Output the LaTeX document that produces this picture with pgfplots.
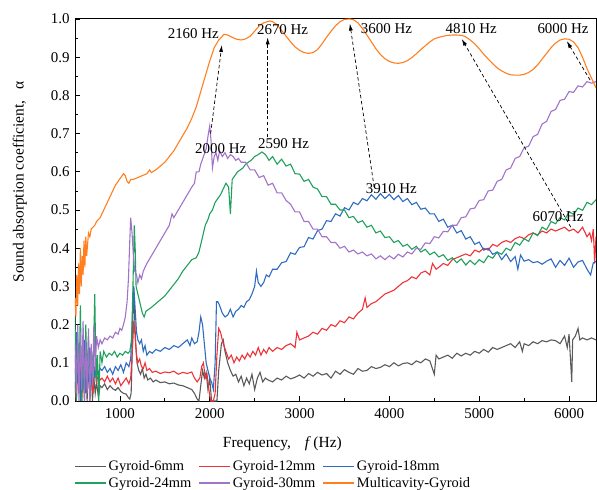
\documentclass[border=0pt]{standalone}
\usepackage{fontspec}
\setmainfont{Liberation Serif}
\usepackage{pgfplots}
\pgfplotsset{compat=1.18}
\usetikzlibrary{arrows.meta}

\definecolor{cGray}{HTML}{5A5A5A}
\definecolor{cRed}{HTML}{EE3338}
\definecolor{cBlue}{HTML}{2F6BC0}
\definecolor{cGreen}{HTML}{1FA05C}
\definecolor{cPurple}{HTML}{A173C9}
\definecolor{cOrange}{HTML}{FF7F1F}

\newcommand{\annfont}{\fontsize{15}{17}\selectfont}

\begin{document}
\begin{tikzpicture}
\begin{axis}[
  scale only axis,
  width=521bp, height=382bp,
  xmin=500, xmax=6300, ymin=0, ymax=1.0,
  xtick={1000,2000,3000,4000,5000,6000},
  ytick={0,0.1,0.2,0.3,0.4,0.5,0.6,0.7,0.8,0.9,1.0},
  minor x tick num=1, minor y tick num=1,
  tick align=inside, tick pos=left,
  major tick length=5bp, minor tick length=3bp,
  axis line style={line width=1pt},
  every tick/.style={black, line width=0.8pt},
  scaled x ticks=false,
  /pgf/number format/assume math mode=true,
  /pgf/number format/1000 sep={},
  yticklabel style={/pgf/number format/fixed, /pgf/number format/precision=1, /pgf/number format/fixed zerofill, xshift=-2bp},
  xticklabel style={yshift=-4bp},
  tick label style={font=\fontsize{15}{17}\selectfont},
  xlabel={Frequency,\hspace{0.9em}\textit{f}\,(Hz)},
  xlabel style={font=\fontsize{15.5}{18}\selectfont, at={(axis description cs:0.398,-0.112)}, anchor=center},
  ylabel={Sound absorption coefficient,\hspace{0.7em}α},
  ylabel style={font=\fontsize{15.5}{18}\selectfont, at={(axis description cs:-0.106,0.573)}, anchor=center, rotate=0},
  legend columns=3,
  legend cell align=left,
  legend style={draw=none, fill=none, at={(axis description cs:-0.002,-0.150)}, anchor=north west,
    font=\fontsize{14.5}{16}\selectfont, inner sep=0pt,
    nodes={inner xsep=2bp, inner ysep=2.4bp},
    /tikz/every even column/.append style={column sep=5bp}},
  legend image code/.code={\draw[#1, line width=1.5pt] (0bp,0bp) -- (31bp,0bp);},
  clip=true,
]
% Gyroid-6mm
\addplot[cGray, line width=1.1pt] coordinates {
(500,0.12)(515,0.00)(530,0.15)(545,0.02)(560,0.10)(575,0.00)(590,0.14)(605,0.03)(620,0.09)(635,0.00)
(650,0.12)(665,0.01)(680,0.08)(695,0.00)(710,0.06)(725,0.02)(740,0.05)(760,0.01)(780,0.04)(800,0.035)
(830,0.045)(860,0.03)(890,0.04)(920,0.032)(950,0.028)(980,0.035)(1010,0.025)(1040,0.02)(1070,0.018)(1090,0.01)
(1110,0.005)(1125,0.02)(1140,0.15)(1150,0.30)(1160,0.25)(1175,0.15)(1190,0.10)(1210,0.08)(1230,0.07)(1250,0.085)
(1270,0.06)(1290,0.07)(1310,0.055)(1340,0.06)(1370,0.05)(1400,0.055)(1450,0.048)(1500,0.05)(1550,0.045)(1600,0.047)
(1650,0.042)(1700,0.04)(1750,0.035)(1800,0.03)(1830,0.02)(1860,0.005)(1880,0.0)(1900,0.04)(1920,0.08)(1940,0.06)
(1960,0.075)(1980,0.03)(2000,0.06)(2020,0.0)(2040,0.0)(2060,0.0)(2080,0.0)(2100,0.08)(2130,0.15)(2150,0.16)
(2170,0.13)(2200,0.10)(2230,0.08)(2260,0.065)(2290,0.07)(2320,0.05)(2350,0.065)(2380,0.04)(2410,0.06)(2440,0.045)
(2470,0.07)(2500,0.03)(2530,0.06)(2560,0.075)(2590,0.05)(2620,0.06)(2650,0.055)(2700,0.05)(2750,0.06)(2800,0.055)
(2850,0.065)(2900,0.058)(2950,0.062)(3000,0.068)(3050,0.06)(3100,0.072)(3150,0.065)(3200,0.075)(3250,0.068)(3300,0.072)
(3350,0.06)(3400,0.078)(3450,0.07)(3500,0.082)(3550,0.075)(3600,0.07)(3650,0.085)(3700,0.078)(3750,0.08)(3800,0.09)
(3850,0.085)(3900,0.088)(3950,0.095)(4000,0.09)(4050,0.1)(4100,0.092)(4150,0.098)(4200,0.1)(4250,0.095)(4300,0.105)
(4350,0.1)(4400,0.11)(4450,0.105)(4500,0.07)(4520,0.12)(4550,0.11)(4600,0.115)(4650,0.12)(4700,0.112)(4750,0.125)
(4800,0.118)(4850,0.125)(4900,0.12)(4950,0.13)(5000,0.125)(5050,0.135)(5100,0.128)(5150,0.14)(5200,0.135)(5250,0.14)
(5300,0.145)(5350,0.15)(5400,0.14)(5450,0.155)(5480,0.13)(5500,0.15)(5550,0.145)(5600,0.155)(5650,0.15)(5700,0.158)
(5750,0.155)(5800,0.16)(5850,0.158)(5900,0.15)(5950,0.17)(5980,0.14)(6000,0.175)(6030,0.05)(6040,0.16)(6070,0.17)
(6100,0.19)(6120,0.16)(6150,0.165)(6200,0.16)(6250,0.165)(6300,0.16)
};
\addlegendentry{Gyroid-6mm}
% Gyroid-12mm
\addplot[cRed, line width=1.1pt] coordinates {
(500,0.05)(515,0.0)(530,0.10)(545,0.02)(560,0.14)(575,0.01)(590,0.08)(605,0.0)(620,0.12)(635,0.03)
(650,0.09)(665,0.0)(680,0.07)(700,0.02)(720,0.09)(740,0.05)(760,0.07)(780,0.055)(800,0.06)(830,0.05)
(860,0.065)(890,0.05)(920,0.06)(950,0.045)(980,0.06)(1010,0.04)(1040,0.05)(1070,0.06)(1100,0.045)(1120,0.06)
(1140,0.14)(1155,0.21)(1170,0.17)(1185,0.12)(1200,0.10)(1220,0.11)(1240,0.09)(1260,0.085)(1280,0.10)(1300,0.08)
(1330,0.085)(1360,0.075)(1400,0.078)(1450,0.072)(1500,0.076)(1550,0.074)(1600,0.078)(1650,0.07)(1700,0.075)(1750,0.072)
(1800,0.076)(1830,0.06)(1860,0.05)(1890,0.06)(1910,0.09)(1930,0.1)(1950,0.06)(1970,0.07)(1990,0.03)(2010,0.0)
(2040,0.0)(2060,0.02)(2080,0.12)(2100,0.19)(2120,0.18)(2150,0.15)(2180,0.13)(2210,0.11)(2240,0.12)(2270,0.10)
(2300,0.115)(2330,0.105)(2360,0.12)(2390,0.11)(2420,0.125)(2450,0.115)(2480,0.13)(2510,0.12)(2540,0.14)(2570,0.12)
(2600,0.135)(2630,0.125)(2660,0.14)(2700,0.13)(2750,0.14)(2800,0.135)(2850,0.145)(2900,0.15)(2950,0.14)(2970,0.18)
(3000,0.16)(3050,0.165)(3100,0.17)(3150,0.18)(3200,0.175)(3250,0.19)(3300,0.185)(3350,0.2)(3400,0.195)(3450,0.21)
(3500,0.205)(3550,0.22)(3600,0.215)(3650,0.23)(3700,0.24)(3730,0.27)(3750,0.245)(3800,0.255)(3850,0.26)(3900,0.27)
(3950,0.28)(4000,0.285)(4050,0.29)(4100,0.3)(4150,0.31)(4200,0.315)(4250,0.325)(4300,0.32)(4350,0.335)(4400,0.34)
(4450,0.33)(4480,0.36)(4520,0.345)(4550,0.35)(4600,0.36)(4650,0.355)(4700,0.37)(4750,0.375)(4800,0.38)(4850,0.385)
(4900,0.38)(4950,0.395)(5000,0.39)(5050,0.4)(5100,0.395)(5150,0.41)(5200,0.405)(5250,0.415)(5300,0.42)(5350,0.415)
(5400,0.425)(5450,0.43)(5500,0.425)(5550,0.435)(5600,0.44)(5650,0.435)(5700,0.445)(5750,0.44)(5800,0.45)(5850,0.445)
(5900,0.45)(5950,0.455)(6000,0.445)(6050,0.45)(6100,0.44)(6150,0.455)(6200,0.43)(6230,0.44)(6250,0.42)(6270,0.45)
(6285,0.36)(6300,0.43)
};
\addlegendentry{Gyroid-12mm}
% Gyroid-18mm
\addplot[cBlue, line width=1.1pt] coordinates {
(500,0.02)(515,0.18)(530,0.05)(545,0.15)(560,0.0)(575,0.12)(590,0.03)(605,0.16)(620,0.02)(635,0.1)
(650,0.05)(665,0.14)(680,0.04)(700,0.12)(720,0.06)(740,0.1)(760,0.07)(780,0.085)(800,0.08)(830,0.09)
(860,0.075)(890,0.085)(920,0.07)(950,0.09)(980,0.08)(1010,0.095)(1040,0.075)(1070,0.1)(1100,0.09)(1120,0.11)
(1140,0.22)(1155,0.30)(1170,0.24)(1185,0.18)(1200,0.16)(1220,0.15)(1240,0.16)(1260,0.13)(1280,0.145)(1300,0.12)
(1330,0.13)(1360,0.125)(1400,0.135)(1450,0.13)(1500,0.14)(1550,0.135)(1600,0.145)(1650,0.14)(1700,0.15)(1750,0.16)
(1780,0.145)(1800,0.165)(1830,0.15)(1860,0.155)(1880,0.18)(1900,0.22)(1920,0.2)(1940,0.15)(1960,0.1)(1980,0.08)
(2000,0.06)(2020,0.05)(2040,0.03)(2060,0.1)(2075,0.26)(2090,0.26)(2110,0.25)(2140,0.23)(2170,0.22)(2200,0.225)
(2230,0.24)(2260,0.22)(2290,0.235)(2320,0.24)(2350,0.25)(2380,0.245)(2410,0.26)(2440,0.265)(2470,0.28)(2500,0.3)
(2520,0.34)(2540,0.31)(2570,0.3)(2600,0.31)(2630,0.33)(2660,0.325)
(2700,0.345)(2750,0.345)(2800,0.362)(2850,0.365)(2900,0.388)(2950,0.384)(3000,0.402)(3050,0.404)(3100,0.428)(3150,0.424)
(3200,0.446)(3250,0.45)(3300,0.472)(3350,0.47)(3400,0.49)(3450,0.484)(3500,0.506)(3550,0.5)(3600,0.52)(3650,0.514)
(3700,0.53)(3750,0.524)(3800,0.54)(3850,0.528)(3900,0.543)(3950,0.53)(4000,0.541)(4050,0.527)(4100,0.538)(4150,0.522)
(4200,0.53)(4250,0.514)(4300,0.52)(4350,0.502)(4400,0.505)(4450,0.49)(4500,0.49)(4550,0.47)(4600,0.476)(4650,0.455)
(4700,0.46)(4750,0.44)(4800,0.446)(4850,0.424)(4900,0.43)(4950,0.41)(5000,0.416)(5050,0.395)(5100,0.4)(5150,0.384)
(5200,0.39)(5250,0.37)(5300,0.385)(5350,0.365)(5400,0.378)(5430,0.345)(5460,0.382)(5500,0.366)(5550,0.37)(5600,0.362)
(5650,0.365)(5700,0.358)(5750,0.366)(5800,0.372)(5850,0.35)(5900,0.368)(5950,0.355)(6000,0.374)(6050,0.35)(6100,0.364)
(6150,0.368)(6200,0.345)(6240,0.33)(6270,0.362)(6300,0.365)
};
\addlegendentry{Gyroid-18mm}
% Gyroid-24mm
\addplot[cGreen, line width=1.1pt] coordinates {
(500,0.22)(515,0.0)(530,0.18)(545,0.03)(560,0.25)(575,0.0)(590,0.15)(605,0.02)(620,0.2)(635,0.05)
(650,0.17)(665,0.0)(680,0.14)(700,0.06)(720,0.28)(735,0.05)(750,0.12)(765,0.0)(780,0.13)(800,0.1)
(820,0.13)(850,0.115)(880,0.125)(910,0.12)(940,0.13)(970,0.115)(1000,0.125)(1030,0.12)(1060,0.13)(1090,0.125)
(1110,0.13)(1130,0.16)(1145,0.3)(1160,0.46)(1170,0.40)(1180,0.30)(1200,0.28)(1220,0.26)(1250,0.23)(1270,0.22)
(1290,0.235)(1320,0.24)(1350,0.245)(1400,0.255)(1450,0.265)(1500,0.275)(1550,0.29)(1600,0.305)(1650,0.32)(1700,0.34)
(1750,0.355)(1800,0.37)(1850,0.375)(1880,0.39)(1900,0.41)(1930,0.44)(1950,0.46)(1980,0.475)(2000,0.49)(2030,0.5)
(2060,0.52)(2090,0.53)(2120,0.54)(2150,0.555)(2180,0.57)(2210,0.56)(2230,0.49)(2250,0.58)(2280,0.59)(2310,0.6)
(2340,0.605)(2370,0.61)(2400,0.62)(2430,0.625)(2460,0.63)(2500,0.64)(2540,0.645)(2580,0.652)(2620,0.645)(2660,0.63)
(2700,0.64)(2750,0.62)(2800,0.633)(2850,0.615)(2900,0.62)(2950,0.595)(3000,0.594)(3050,0.575)(3100,0.58)(3150,0.56)
(3200,0.555)(3250,0.535)(3300,0.535)(3350,0.515)(3400,0.515)(3450,0.5)(3500,0.5)(3550,0.48)(3600,0.483)(3650,0.467)
(3700,0.472)(3750,0.455)(3800,0.46)(3850,0.44)(3900,0.445)(3950,0.428)(4000,0.43)(4050,0.415)(4100,0.42)(4150,0.405)
(4200,0.41)(4250,0.397)(4300,0.405)(4350,0.39)(4400,0.397)(4450,0.383)(4500,0.39)(4550,0.377)(4600,0.383)(4650,0.368)
(4700,0.375)(4750,0.362)(4800,0.372)(4850,0.356)(4900,0.368)(4950,0.357)(5000,0.37)(5050,0.362)(5100,0.38)(5150,0.374)
(5200,0.39)(5250,0.384)(5300,0.4)(5350,0.394)(5400,0.415)(5450,0.408)(5500,0.425)(5550,0.418)(5600,0.44)(5650,0.433)
(5700,0.455)(5750,0.448)(5800,0.47)(5850,0.464)(5900,0.48)(5950,0.474)(6000,0.495)(6050,0.489)(6100,0.505)(6150,0.499)
(6200,0.52)(6250,0.514)(6300,0.527)
};
\addlegendentry{Gyroid-24mm}
% Gyroid-30mm
\addplot[cPurple, line width=1.1pt] coordinates {
(500,0.15)(515,0.02)(530,0.2)(545,0.0)(560,0.18)(575,0.03)(590,0.21)(605,0.0)(620,0.16)(635,0.02)
(650,0.19)(665,0.0)(680,0.15)(695,0.04)(710,0.2)(725,0.08)(740,0.17)(760,0.14)(780,0.16)(800,0.15)
(830,0.165)(860,0.16)(890,0.17)(920,0.165)(950,0.18)(980,0.175)(1000,0.19)(1020,0.185)(1040,0.2)(1060,0.22)
(1080,0.26)(1095,0.32)(1110,0.42)(1120,0.48)(1135,0.44)(1150,0.38)(1165,0.34)(1185,0.33)(1200,0.31)(1220,0.33)
(1240,0.32)(1260,0.34)(1300,0.36)(1350,0.38)(1400,0.4)(1450,0.42)(1500,0.44)(1550,0.46)(1580,0.49)(1600,0.48)
(1650,0.5)(1700,0.52)(1750,0.54)(1800,0.56)(1830,0.57)(1850,0.6)(1880,0.6)(1900,0.62)(1930,0.64)(1960,0.66)
(1985,0.70)(2000,0.72)(2015,0.68)(2030,0.61)(2050,0.64)(2070,0.65)(2090,0.63)(2110,0.655)(2140,0.64)(2170,0.65)
(2200,0.635)(2230,0.645)(2260,0.64)(2290,0.63)(2320,0.635)(2350,0.625)
(2400,0.625)(2450,0.605)(2500,0.605)(2550,0.585)(2600,0.59)(2650,0.565)(2700,0.57)(2750,0.545)(2800,0.545)(2850,0.525)
(2900,0.515)(2950,0.495)(3000,0.495)(3050,0.47)(3100,0.47)(3150,0.45)(3200,0.45)(3250,0.43)(3300,0.43)(3350,0.415)
(3400,0.415)(3450,0.4)(3500,0.405)(3550,0.39)(3600,0.395)(3650,0.385)(3700,0.39)(3750,0.38)(3800,0.385)(3850,0.372)
(3900,0.38)(3950,0.37)(4000,0.38)(4050,0.372)(4100,0.384)(4150,0.377)(4200,0.39)(4250,0.385)(4300,0.4)(4350,0.397)
(4400,0.414)(4450,0.412)(4500,0.43)(4550,0.427)(4600,0.444)(4650,0.443)(4700,0.46)(4750,0.46)(4800,0.48)(4850,0.482)
(4900,0.503)(4950,0.505)(5000,0.525)(5050,0.527)(5100,0.55)(5150,0.552)(5200,0.575)(5250,0.58)(5300,0.605)(5350,0.61)
(5400,0.635)(5450,0.64)(5500,0.663)(5550,0.667)(5600,0.692)(5650,0.698)(5700,0.725)(5750,0.732)(5800,0.758)(5850,0.763)
(5900,0.787)(5950,0.79)(6000,0.81)(6050,0.808)(6100,0.825)(6150,0.822)(6200,0.836)(6250,0.832)(6300,0.836)
};
\addlegendentry{Gyroid-30mm}
% Multicavity-Gyroid
\addplot[cOrange, line width=1.1pt] coordinates {
(500,0.27)(510,0.22)(520,0.33)(530,0.25)(540,0.36)(550,0.28)(560,0.4)(570,0.3)(580,0.38)(590,0.33)
(600,0.42)(610,0.35)(620,0.43)(630,0.38)(640,0.41)(650,0.44)(665,0.43)(680,0.45)(700,0.455)(720,0.46)
(740,0.47)(760,0.475)(780,0.48)(800,0.49)(830,0.505)(860,0.52)(890,0.535)(920,0.55)(950,0.565)(980,0.575)
(1010,0.585)(1040,0.595)(1060,0.59)(1080,0.575)(1100,0.57)(1120,0.58)(1150,0.58)(1200,0.585)(1250,0.59)(1300,0.595)
(1330,0.605)(1350,0.598)(1400,0.605)(1450,0.615)(1500,0.625)(1550,0.64)(1600,0.655)(1650,0.675)(1700,0.695)(1750,0.715)
(1800,0.74)(1850,0.77)(1900,0.81)(1950,0.85)(2000,0.89)(2050,0.925)(2100,0.945)(2160,0.96)(2200,0.958)(2250,0.952)
(2300,0.947)(2350,0.945)(2400,0.948)(2450,0.955)(2500,0.968)(2550,0.982)(2600,0.99)(2670,0.995)(2700,0.993)(2750,0.985)
(2800,0.97)(2850,0.955)(2900,0.94)(2950,0.927)(3000,0.918)(3050,0.912)(3100,0.91)(3150,0.912)(3200,0.92)(3250,0.935)
(3300,0.952)(3350,0.968)(3400,0.982)(3450,0.993)(3500,0.999)(3560,1.0)(3600,0.998)(3650,0.99)(3700,0.975)(3750,0.958)
(3800,0.94)(3850,0.922)(3900,0.907)(3950,0.896)(4000,0.889)(4050,0.885)(4100,0.884)(4150,0.886)(4200,0.891)(4250,0.899)
(4300,0.909)(4350,0.92)(4400,0.93)(4450,0.94)(4500,0.948)(4550,0.952)(4600,0.955)(4650,0.957)(4700,0.958)(4750,0.958)
(4810,0.957)(4850,0.953)(4900,0.945)(4950,0.935)(5000,0.922)(5050,0.908)(5100,0.895)(5150,0.883)(5200,0.872)(5250,0.864)
(5300,0.858)(5350,0.854)(5400,0.853)(5450,0.853)(5500,0.855)(5550,0.86)(5600,0.868)(5650,0.88)(5700,0.895)(5750,0.91)
(5800,0.925)(5850,0.937)(5900,0.945)(5950,0.948)(6000,0.947)(6050,0.94)(6100,0.925)(6150,0.9)(6200,0.87)(6250,0.845)
(6300,0.82)
};
\addlegendentry{Multicavity-Gyroid}

% peak frequency labels
\node[font=\annfont] at (axis cs:1817,0.963) {2160 Hz};
\node[font=\annfont] at (axis cs:2811,0.971) {2670 Hz};
\node[font=\annfont] at (axis cs:3967,0.976) {3600 Hz};
\node[font=\annfont] at (axis cs:4911,0.976) {4810 Hz};
\node[font=\annfont] at (axis cs:5933,0.974) {6000 Hz};
\node[font=\annfont] at (axis cs:2122,0.662) {2000 Hz};
\node[font=\annfont] at (axis cs:2822,0.675) {2590 Hz};
\node[font=\annfont] at (axis cs:4022,0.555) {3910 Hz};
\node[font=\annfont] at (axis cs:5878,0.482) {6070 Hz};

% shift of each resonance peak
\begin{scope}[dashed, dash pattern=on 3.5pt off 2.5pt, line width=0.7pt, -{Latex[length=7pt,width=4pt]}]
\draw (axis cs:2010,0.70) -- (axis cs:2135,0.932);
\draw (axis cs:2645,0.69) -- (axis cs:2645,0.952);
\draw (axis cs:3830,0.56) -- (axis cs:3560,0.988);
\draw (axis cs:6020,0.455) -- (axis cs:4805,0.948);
\draw (axis cs:6235,0.84) -- (axis cs:5975,0.942);
\end{scope}
\end{axis}
\pgfresetboundingbox
\useasboundingbox (-75bp,-89bp) rectangle (522bp,401bp);
\end{tikzpicture}
\end{document}
